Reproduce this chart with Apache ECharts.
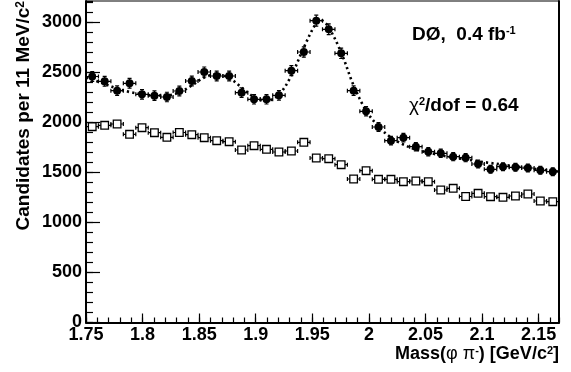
<!DOCTYPE html>
<html><head><meta charset="utf-8">
<script src="https://cdn.jsdelivr.net/npm/echarts@6/dist/echarts.min.js"></script>
<style>html,body{margin:0;padding:0;background:#fff}#c{width:571px;height:372px}</style>
</head><body><div id="c"></div>
<script>
// Binning: 11 MeV bins starting at 1.75 GeV
const binLow = 1.75;
const binWidth = 0.011;

// Filled points: signal sample (candidates per bin)
const signalCounts = [2460, 2412, 2318, 2392, 2282, 2268, 2255, 2315, 2415, 2505,
  2465, 2465, 2298, 2232, 2232, 2272, 2518, 2705, 3018, 2932,
  2692, 2318, 2112, 1955, 1818, 1848, 1758, 1708, 1692, 1658,
  1648, 1585, 1532, 1558, 1552, 1545, 1522, 1508];

// Open squares: background sample
const backgroundCounts = [1958, 1972, 1985, 1882, 1948, 1898, 1852, 1900, 1878, 1848,
  1818, 1808, 1725, 1768, 1732, 1705, 1715, 1802, 1645, 1638,
  1578, 1435, 1518, 1432, 1432, 1408, 1415, 1408, 1325, 1342,
  1260, 1292, 1258, 1252, 1265, 1285, 1215, 1208];

// Fit curve (dotted)
const fitMass = [1.750, 1.7555, 1.7665, 1.7775, 1.7885, 1.7995, 1.8105, 1.8215, 1.8325, 1.8435,
  1.8545, 1.8655, 1.8765, 1.8875, 1.8985, 1.9095, 1.9205, 1.9315, 1.9425, 1.9535,
  1.9580, 1.9645, 1.9755, 1.9865, 1.9975, 2.0085, 2.0195, 2.0305, 2.0415, 2.0525,
  2.0635, 2.0745, 2.0855, 2.0965, 2.1075, 2.1185, 2.1295, 2.1405, 2.1515, 2.1625, 2.168];
const fitCounts = [2450, 2430, 2385, 2340, 2305, 2282, 2270, 2272, 2300, 2370,
  2450, 2480, 2445, 2350, 2255, 2215, 2280, 2470, 2750, 2995,
  3020, 2950, 2700, 2370, 2120, 1960, 1850, 1780, 1730, 1700,
  1672, 1650, 1632, 1612, 1595, 1578, 1560, 1545, 1530, 1515, 1508];

const xMin = 1.75, xMax = 2.168, xInterval = 0.05, xMinorInterval = 0.01;
const yMin = 0, yMax = 3215, yInterval = 500, yMinorInterval = 100;

const FONT = '"Liberation Sans", Arial, Helvetica, sans-serif';

function binCenter(i) { return binLow + binWidth * (i + 0.5); }
const signalData = signalCounts.map((v, i) => [binCenter(i), v, Math.sqrt(v)]);
const backgroundData = backgroundCounts.map((v, i) => [binCenter(i), v, Math.sqrt(v)]);
const fitData = fitMass.map((m, i) => [m, fitCounts[i]]);

function makeRender(kind) {
  return function (params, api) {
    const x = api.value(0), y = api.value(1), e = api.value(2);
    const c = api.coord([x, y]);
    const L = api.coord([x - binWidth / 2, y]);
    const R = api.coord([x + binWidth / 2, y]);
    const T = api.coord([x, y + e]);
    const B = api.coord([x, y - e]);
    const st = { stroke: '#000', lineWidth: 1.2 };
    const cap = 2;
    const ch = [
      { type: 'line', shape: { x1: L[0], y1: c[1], x2: R[0], y2: c[1] }, style: st },
      { type: 'line', shape: { x1: L[0], y1: c[1] - cap, x2: L[0], y2: c[1] + cap }, style: st },
      { type: 'line', shape: { x1: R[0], y1: c[1] - cap, x2: R[0], y2: c[1] + cap }, style: st }
    ];
    if (kind === 'filled') {
      ch.push({ type: 'line', shape: { x1: c[0], y1: T[1], x2: c[0], y2: B[1] }, style: st });
      ch.push({ type: 'line', shape: { x1: c[0] - cap, y1: T[1], x2: c[0] + cap, y2: T[1] }, style: st });
      ch.push({ type: 'line', shape: { x1: c[0] - cap, y1: B[1], x2: c[0] + cap, y2: B[1] }, style: st });
      ch.push({ type: 'circle', shape: { cx: c[0], cy: c[1], r: 4 }, style: { fill: '#000' } });
    } else {
      ch.push({ type: 'rect', shape: { x: c[0] - 3.8, y: c[1] - 3.8, width: 7.6, height: 7.6 },
        style: { fill: '#fff', stroke: '#000', lineWidth: 1.3 } });
    }
    return { type: 'group', children: ch };
  };
}

const chart = echarts.init(document.getElementById('c'), null, { renderer: 'canvas' });
const labelStyle = { color: '#000', fontFamily: FONT, fontWeight: 'bold', fontSize: 18 };

chart.setOption({
  animation: false,
  backgroundColor: '#fff',
  grid: { left: 86, right: 12, top: 1, bottom: 49.5, show: true, borderColor: '#000', borderWidth: 1, backgroundColor: 'transparent' },
  xAxis: [
    {
      type: 'value', min: xMin, max: xMax, interval: xInterval,
      axisLine: { show: true, lineStyle: { color: '#000', width: 2 } },
      axisTick: { show: true, inside: true, length: 9, lineStyle: { color: '#000', width: 1.2 } },
      axisLabel: Object.assign({ formatter: v => String(+(+v).toFixed(2)), showMaxLabel: false, margin: 4 }, labelStyle),
      splitLine: { show: false }
    },
    {
      type: 'value', min: xMin, max: xMax, interval: xMinorInterval, position: 'bottom',
      axisLine: { show: false },
      axisTick: { show: true, inside: true, length: 5, lineStyle: { color: '#000', width: 1.2 } },
      axisLabel: { show: false }, splitLine: { show: false }
    }
  ],
  yAxis: [
    {
      type: 'value', min: yMin, max: yMax, interval: yInterval,
      axisLine: { show: true, lineStyle: { color: '#000', width: 2 } },
      axisTick: { show: true, inside: true, length: 14, lineStyle: { color: '#000', width: 1.2 } },
      axisLabel: Object.assign({ formatter: v => String(Math.round(v)), showMaxLabel: false, margin: 4 }, labelStyle),
      splitLine: { show: false }
    },
    {
      type: 'value', min: yMin, max: yMax, interval: yMinorInterval, position: 'left',
      axisLine: { show: false },
      axisTick: { show: true, inside: true, length: 7, lineStyle: { color: '#000', width: 1.2 } },
      axisLabel: { show: false }, splitLine: { show: false }
    },
    {
      type: 'value', min: yMin, max: yMax, interval: yMax, position: 'right',
      axisLine: { show: true, lineStyle: { color: '#000', width: 2 } },
      axisTick: { show: false }, axisLabel: { show: false }, splitLine: { show: false }
    }
  ],
  series: [
    {
      type: 'line', data: fitData, smooth: 0.35, showSymbol: false, symbol: 'none',
      lineStyle: { color: '#000', width: 2.6, type: [2.2, 3.2] }, z: 2, silent: true
    },
    {
      type: 'custom', data: backgroundData, renderItem: makeRender('open'),
      encode: { x: 0, y: 1 }, z: 3, clip: true
    },
    {
      type: 'custom', data: signalData, renderItem: makeRender('filled'),
      encode: { x: 0, y: 1 }, z: 4, clip: true
    }
  ],
  graphic: [
    {
      type: 'text', x: 24, y: 1, rotation: Math.PI / 2,
      style: {
        text: '{t|Candidates per 11 MeV/c}{s|2}', align: 'right', verticalAlign: 'middle',
        rich: {
          t: { fontFamily: FONT, fontWeight: 'bold', fontSize: 19, color: '#000' },
          s: { fontFamily: FONT, fontWeight: 'bold', fontSize: 12, verticalAlign: 'top', color: '#000' }
        }
      }
    },
    {
      type: 'text', x: 559, y: 354,
      style: {
        text: '{t|Mass(}{g|φ π}{s|-}{t|) [GeV/c}{s|2}{t|]}', align: 'right', verticalAlign: 'middle',
        rich: {
          t: { fontFamily: FONT, fontWeight: 'bold', fontSize: 18, color: '#000' },
          g: { fontFamily: FONT, fontWeight: 'normal', fontSize: 18, color: '#000' },
          s: { fontFamily: FONT, fontWeight: 'bold', fontSize: 11, verticalAlign: 'top', color: '#000' }
        }
      }
    },
    {
      type: 'text', x: 412, y: 35,
      style: {
        text: '{t|DØ,  0.4 fb}{s|-1}', align: 'left', verticalAlign: 'middle',
        rich: {
          t: { fontFamily: FONT, fontWeight: 'bold', fontSize: 19, color: '#000' },
          s: { fontFamily: FONT, fontWeight: 'bold', fontSize: 11, verticalAlign: 'top', color: '#000' }
        }
      }
    },
    {
      type: 'text', x: 409, y: 106,
      style: {
        text: '{g|χ}{s|2}{t|/dof = 0.64}', align: 'left', verticalAlign: 'middle',
        rich: {
          g: { fontFamily: FONT, fontWeight: 'normal', fontSize: 19, color: '#000' },
          t: { fontFamily: FONT, fontWeight: 'bold', fontSize: 19, color: '#000' },
          s: { fontFamily: FONT, fontWeight: 'bold', fontSize: 11, verticalAlign: 'top', color: '#000' }
        }
      }
    }
  ]
});
</script></body></html>
